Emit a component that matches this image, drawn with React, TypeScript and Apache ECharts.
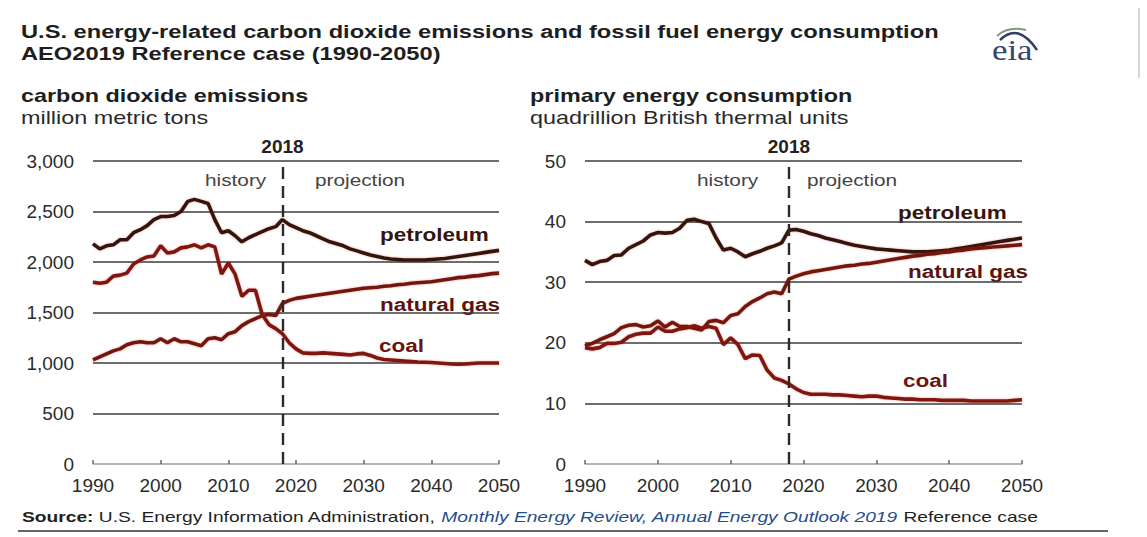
import React, { useEffect, useRef } from "react";
import * as echarts from "echarts";

const FONT = "Arial, 'Liberation Sans', Helvetica, sans-serif";

const years: number[] = [];
for (let y = 1990; y <= 2050; y++) years.push(y);

// carbon dioxide emissions, million metric tons
const petroleumCO2 = [
  2180, 2130, 2160, 2170, 2220, 2220, 2290, 2320, 2360, 2420,
  2450, 2450, 2460, 2500, 2600, 2620, 2600, 2580, 2420, 2290,
  2310, 2260, 2200, 2240, 2270, 2300, 2330, 2350, 2420,
  2370, 2340, 2310, 2290, 2260, 2230, 2200, 2180, 2160, 2130,
  2110, 2090, 2070, 2055, 2040, 2030, 2025, 2020, 2020, 2020,
  2020, 2025, 2030, 2035, 2045, 2055, 2065, 2075, 2085, 2095,
  2105, 2115,
];
const gasCO2 = [
  1030, 1060, 1090, 1120, 1140, 1180, 1200, 1210, 1200, 1200,
  1240, 1200, 1240, 1210, 1210, 1190, 1170, 1240, 1250, 1230,
  1290, 1310, 1370, 1410, 1440, 1470, 1480, 1470, 1590,
  1620, 1640, 1650, 1660, 1670, 1680, 1690, 1700, 1710, 1720,
  1730, 1740, 1745, 1750, 1760, 1765, 1775, 1780, 1790, 1795,
  1800, 1805, 1815, 1825, 1835, 1845, 1850, 1860, 1865, 1875,
  1885, 1890,
];
const coalCO2 = [
  1800, 1790, 1800, 1860, 1870, 1890, 1980, 2020, 2050, 2060,
  2160, 2090, 2100, 2140, 2150, 2170, 2140, 2170, 2150, 1880,
  1990, 1880, 1660, 1720, 1720, 1480, 1380, 1340, 1290,
  1200, 1140, 1100, 1095, 1095, 1100, 1095, 1090, 1085, 1080,
  1090, 1095, 1075, 1050, 1035, 1030, 1025, 1020, 1015, 1010,
  1008, 1005, 1000, 995, 990, 988, 990, 995, 1000, 1000,
  1000, 1000,
];

// primary energy consumption, quadrillion Btu
const petroleumQ = [
  33.6, 32.9, 33.4, 33.6, 34.4, 34.5, 35.6, 36.2, 36.8, 37.8,
  38.2, 38.1, 38.2, 38.9, 40.2, 40.4, 40.0, 39.7, 37.3, 35.3,
  35.6, 35.0, 34.2, 34.7, 35.1, 35.6, 36.0, 36.5, 38.6,
  38.7, 38.4, 38.0, 37.7, 37.3, 37.0, 36.7, 36.4, 36.1, 35.9,
  35.7, 35.5, 35.4, 35.3, 35.2, 35.1, 35.0, 35.0, 35.0, 35.1,
  35.2, 35.3, 35.5, 35.7, 35.9, 36.1, 36.3, 36.5, 36.7, 36.9,
  37.1, 37.3,
];
const gasQ = [
  19.5, 19.9, 20.5, 21.0, 21.5, 22.5, 22.9, 23.0, 22.6, 22.8,
  23.6, 22.6, 23.4, 22.7, 22.7, 22.4, 22.1, 23.5, 23.7, 23.3,
  24.5, 24.8, 26.0, 26.8, 27.4, 28.1, 28.4, 28.1, 30.5,
  31.0, 31.4, 31.7, 31.9, 32.1, 32.3, 32.5, 32.7, 32.8, 33.0,
  33.1, 33.3, 33.5, 33.7, 33.9, 34.1, 34.3, 34.4, 34.6, 34.7,
  34.9, 35.0, 35.2, 35.3, 35.5, 35.6, 35.7, 35.8, 35.9, 36.0,
  36.1, 36.2,
];
const coalQ = [
  19.2, 19.0, 19.2, 19.9, 19.9, 20.1, 21.0, 21.4, 21.6, 21.6,
  22.6, 21.9, 21.9, 22.3, 22.5, 22.8, 22.4, 22.7, 22.4, 19.7,
  20.8, 19.7, 17.4, 18.0, 17.9, 15.5, 14.2, 13.8, 13.2,
  12.4, 11.8, 11.5, 11.5, 11.5, 11.4, 11.4, 11.3, 11.2, 11.1,
  11.2, 11.2, 11.0, 10.9, 10.8, 10.7, 10.7, 10.6, 10.6, 10.6,
  10.5, 10.5, 10.5, 10.5, 10.4, 10.4, 10.4, 10.4, 10.4, 10.4,
  10.5, 10.6,
];

const divideYear = 2018;
const leftYMax = 3000;
const leftYStep = 500;
const rightYMax = 50;
const rightYStep = 10;

const COLORS = { petroleum: "#33140f", gas: "#741610", coal: "#801811" };

const pair = (vals: number[]) => years.map((y, i) => [y, vals[i]]);

function txt(text: string, x: number, y: number, size: number, weight: string, color: string, sx = 1.3, align = "left") {
  return {
    type: "text",
    x,
    y,
    scaleX: sx,
    silent: true,
    style: {
      text,
      fill: color,
      font: `${weight} ${size}px ${FONT}`,
      textAlign: align,
      textVerticalAlign: "middle",
    },
  };
}

function lineSeries(name: string, vals: number[], color: string, idx: number, mark: boolean) {
  const s: any = {
    name,
    type: "line",
    xAxisIndex: idx,
    yAxisIndex: idx,
    data: pair(vals),
    showSymbol: false,
    symbol: "none",
    lineStyle: { color, width: 3.6, shadowColor: "rgba(190,30,20,0.35)", shadowBlur: 2 },
    itemStyle: { color },
    z: 3,
  };
  if (mark) {
    s.markLine = {
      silent: true,
      symbol: ["none", "none"],
      lineStyle: { type: [12, 7], color: "#2a2a2a", width: 2.4, shadowBlur: 0 },
      label: {
        show: true,
        position: "end",
        formatter: String(divideYear),
        fontSize: 19,
        fontWeight: "bold",
        color: "#222",
        fontFamily: FONT,
        distance: 5,
      },
      data: [{ xAxis: divideYear }],
    };
  }
  return s;
}

function xAxisCfg(i: number) {
  return {
    type: "value",
    gridIndex: i,
    min: 1990,
    max: 2050,
    interval: 10,
    axisLine: { show: true, onZero: false, lineStyle: { color: "#b0b0b0", width: 1.5 } },
    axisTick: { show: true, inside: true, length: 4, lineStyle: { color: "#666", width: 1.5 } },
    axisLabel: { color: "#2b2b2b", fontSize: 19, fontFamily: FONT, margin: 12, formatter: (v: number) => String(v) },
    splitLine: { show: false },
  };
}

function yAxisCfg(i: number, max: number, step: number, comma: boolean) {
  const n = Math.round(max / step);
  const colors = ["#b0b0b0"];
  for (let k = 0; k < n; k++) colors.push("#3c3c3c");
  return {
    type: "value",
    gridIndex: i,
    min: 0,
    max,
    interval: step,
    axisLine: { show: false },
    axisTick: { show: false },
    axisLabel: {
      color: "#2b2b2b",
      fontSize: 19,
      fontFamily: FONT,
      margin: 19,
      formatter: (v: number) => (comma ? v.toLocaleString("en-US") : String(v)),
    },
    splitLine: { show: true, lineStyle: { color: colors, width: 1.6 } },
  };
}

export default function App() {
  const ref = useRef<HTMLDivElement>(null);
  useEffect(() => {
    if (!ref.current) return;
    const chart = echarts.init(ref.current, undefined, { renderer: "svg" });
    const option: any = {
      animation: false,
      backgroundColor: "#ffffff",
      grid: [
        { left: 93, top: 161, width: 406, height: 303 },
        { left: 585, top: 161, width: 437, height: 303 },
      ],
      xAxis: [xAxisCfg(0), xAxisCfg(1)],
      yAxis: [yAxisCfg(0, leftYMax, leftYStep, true), yAxisCfg(1, rightYMax, rightYStep, false)],
      series: [
        lineSeries("petroleum", petroleumCO2, COLORS.petroleum, 0, true),
        lineSeries("natural gas", gasCO2, COLORS.gas, 0, false),
        lineSeries("coal", coalCO2, COLORS.coal, 0, false),
        lineSeries("petroleum", petroleumQ, COLORS.petroleum, 1, true),
        lineSeries("natural gas", gasQ, COLORS.gas, 1, false),
        lineSeries("coal", coalQ, COLORS.coal, 1, false),
      ],
      graphic: [
        txt("U.S. energy-related carbon dioxide emissions and fossil fuel energy consumption", 21, 32, 18, "bold", "#1e1e1e", 1.315),
        txt("AEO2019 Reference case (1990-2050)", 21, 54, 18, "bold", "#1e1e1e", 1.315),
        txt("carbon dioxide emissions", 21, 96, 18, "bold", "#1e1e1e"),
        txt("million metric tons", 21, 118, 18, "normal", "#2a2a2a"),
        txt("primary energy consumption", 530, 96, 18, "bold", "#1e1e1e"),
        txt("quadrillion British thermal units", 530, 118, 18, "normal", "#2a2a2a"),
        txt("history", 205, 180, 16, "normal", "#444"),
        txt("projection", 315, 180, 16, "normal", "#444"),
        txt("history", 697, 180, 16, "normal", "#444"),
        txt("projection", 807, 180, 16, "normal", "#444"),
        txt("petroleum", 380, 235, 18, "bold", "#34160f", 1.25),
        txt("natural gas", 380, 305, 18, "bold", "#5a1410", 1.25),
        txt("coal", 379, 346, 18, "bold", "#6a1510", 1.25),
        txt("petroleum", 898, 213, 18, "bold", "#34160f", 1.25),
        txt("natural gas", 908, 272, 18, "bold", "#5a1410", 1.25),
        txt("coal", 903, 381, 18, "bold", "#6a1510", 1.25),
        {
          type: "text",
          x: 22,
          y: 517,
          scaleX: 1.28,
          silent: true,
          style: {
            text: "{b|Source:}{r| U.S. Energy Information Administration, }{i|Monthly Energy Review, Annual Energy Outlook 2019}{r| Reference case}",
            textVerticalAlign: "middle",
            rich: {
              b: { fontWeight: "bold", fontSize: 15, fontFamily: FONT, fill: "#1e1e1e", color: "#1e1e1e" },
              r: { fontSize: 15, fontFamily: FONT, fill: "#1e1e1e", color: "#1e1e1e" },
              i: { fontStyle: "italic", fontSize: 15, fontFamily: FONT, fill: "#1f4e8c", color: "#1f4e8c" },
            },
          },
        },
        {
          type: "line",
          silent: true,
          shape: { x1: 18, y1: 531, x2: 1108, y2: 531 },
          style: { stroke: "#333", lineWidth: 1.5 },
        },
        {
          type: "text",
          x: 992,
          y: 50,
          scaleX: 1.2,
          silent: true,
          style: {
            text: "eia",
            fill: "#33456a",
            font: "normal 29px 'Liberation Serif', 'DejaVu Serif', serif",
            textVerticalAlign: "middle",
          },
        },
        {
          type: "bezierCurve",
          silent: true,
          shape: { x1: 1000, y1: 40, x2: 1037, y2: 50, cpx1: 1018, cpy1: 22 },
          style: { stroke: "#2f3f66", lineWidth: 2.5, fill: null },
        },
        {
          type: "bezierCurve",
          silent: true,
          shape: { x1: 997, y1: 36, x2: 1026, y2: 30, cpx1: 1008, cpy1: 26 },
          style: { stroke: "#7f9a78", lineWidth: 2, fill: null },
        },
        {
          type: "line",
          silent: true,
          shape: { x1: 1139, y1: 8, x2: 1139, y2: 78 },
          style: { stroke: "#c8c8c8", lineWidth: 1.5 },
        },
      ],
    };
    chart.setOption(option);
    return () => chart.dispose();
  }, []);
  return (
    <div
      ref={ref}
      style={{ position: "fixed", left: 0, top: 0, width: 1147, height: 537, background: "#fff" }}
    />
  );
}
